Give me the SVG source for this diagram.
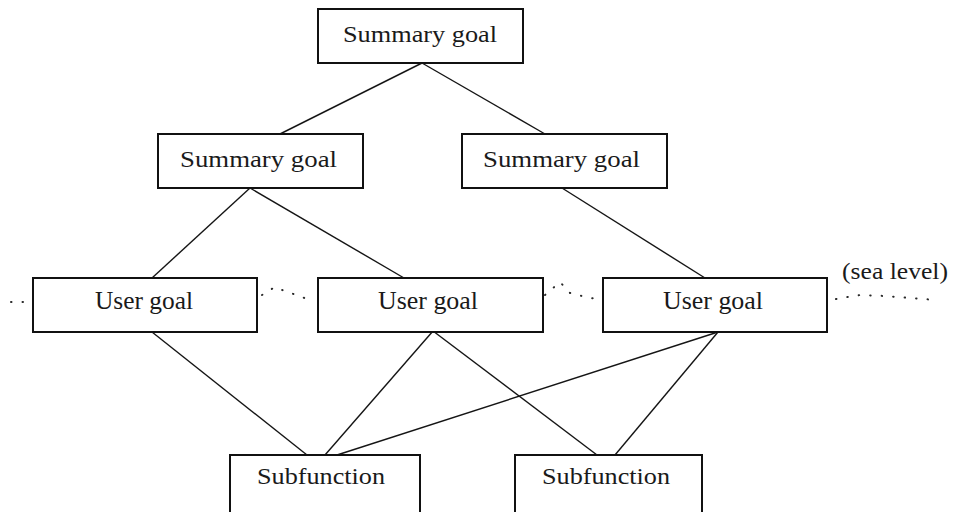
<svg xmlns="http://www.w3.org/2000/svg" width="956" height="512" viewBox="0 0 956 512">
  <style>
    .box { fill: #ffffff; stroke: #111111; stroke-width: 2; }
    .lbl { font-family: 'Liberation Serif', serif; fill: #1a1a1a; text-anchor: middle; }
    .sum { font-size: 23px; }
    .usr { font-size: 25px; }
    .sub { font-size: 24px; }
    .edge { stroke: #151515; stroke-width: 1.4; fill: none; }
    .dots { stroke: #2a2a2a; stroke-width: 2; fill: none; stroke-linecap: round; stroke-dasharray: 0.5 11; }
  </style>
  <rect width="956" height="512" fill="#ffffff"/>

  <!-- connectors -->
  <g id="connectors">
    <line class="edge" x1="422" y1="63" x2="280" y2="134"/>
    <line class="edge" x1="422" y1="63" x2="545" y2="134"/>
    <line class="edge" x1="250" y1="188" x2="152" y2="278"/>
    <line class="edge" x1="250" y1="188" x2="404" y2="278"/>
    <line class="edge" x1="562" y1="188" x2="705" y2="278"/>
    <line class="edge" x1="152" y1="332" x2="307" y2="455"/>
    <line class="edge" x1="433" y1="331" x2="325" y2="455"/>
    <line class="edge" x1="433" y1="331" x2="597" y2="455"/>
    <line class="edge" x1="718" y1="332" x2="337" y2="455"/>
    <line class="edge" x1="718" y1="332" x2="615" y2="455"/>
  </g>

  <!-- sea level dotted line -->
  <g id="sea-level">
    <polyline class="dots" points="11,302 24,302"/>
    <polyline class="dots" points="262,295 275,287 287,292 300,296 313,302"/>
    <polyline class="dots" points="545,295 560,282 570,293 582,296 596,299"/>
    <polyline class="dots" points="836,299 860,295 885,296 936,300"/>
    <text class="lbl" x="895" y="279" font-size="23" textLength="106" lengthAdjust="spacingAndGlyphs">(sea level)</text>
  </g>

  <g id="summary-top">
    <rect class="box" x="318" y="9" width="205" height="54"/>
    <text class="lbl sum" x="420" y="42" textLength="154" lengthAdjust="spacingAndGlyphs">Summary goal</text>
  </g>
  <g id="summary-left">
    <rect class="box" x="158" y="134" width="205" height="54"/>
    <text class="lbl sum" x="258.5" y="167" textLength="157" lengthAdjust="spacingAndGlyphs">Summary goal</text>
  </g>
  <g id="summary-right">
    <rect class="box" x="462" y="134" width="205" height="54"/>
    <text class="lbl sum" x="561.5" y="167" textLength="157" lengthAdjust="spacingAndGlyphs">Summary goal</text>
  </g>

  <g id="user-left">
    <rect class="box" x="33" y="278" width="224" height="54"/>
    <text class="lbl usr" x="144" y="309" textLength="98" lengthAdjust="spacingAndGlyphs">User goal</text>
  </g>
  <g id="user-middle">
    <rect class="box" x="318" y="278" width="225" height="54"/>
    <text class="lbl usr" x="428" y="309" textLength="100" lengthAdjust="spacingAndGlyphs">User goal</text>
  </g>
  <g id="user-right">
    <rect class="box" x="603" y="278" width="224" height="54"/>
    <text class="lbl usr" x="713" y="309" textLength="100" lengthAdjust="spacingAndGlyphs">User goal</text>
  </g>

  <g id="subfunction-left">
    <rect class="box" x="230" y="455" width="190" height="80"/>
    <text class="lbl sub" x="321" y="484" textLength="128" lengthAdjust="spacingAndGlyphs">Subfunction</text>
  </g>
  <g id="subfunction-right">
    <rect class="box" x="515" y="455" width="187" height="80"/>
    <text class="lbl sub" x="606" y="484" textLength="128" lengthAdjust="spacingAndGlyphs">Subfunction</text>
  </g>
</svg>
